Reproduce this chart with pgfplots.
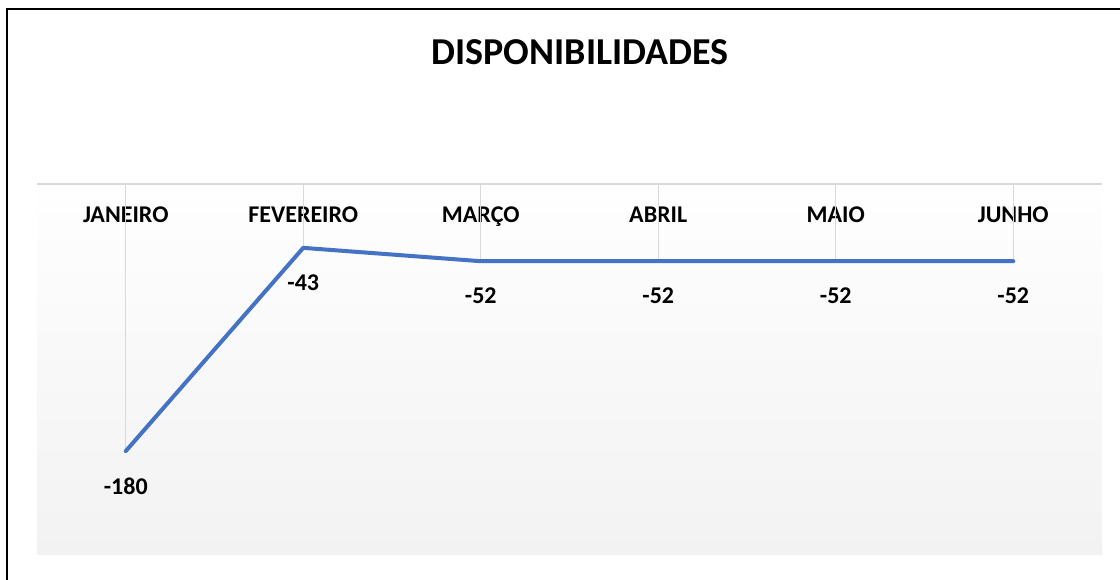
\documentclass[border=0pt]{standalone}
\usepackage{pgfplots}
\pgfplotsset{compat=1.18}
\usepackage{fontspec}
\setmainfont{Carlito}
\definecolor{linecol}{RGB}{68,114,196}
\definecolor{gridcol}{RGB}{217,217,217}
\definecolor{bgbot}{RGB}{242,242,242}
\begin{document}
\begin{tikzpicture}
\useasboundingbox (0,0) rectangle (840pt,435pt);
\begin{axis}[
  at={(27.75pt,18.75pt)}, anchor=south west,
  scale only axis, width=798.75pt, height=291pt,
  xmin=-0.5, xmax=5.5, ymin=-250, ymax=11.5,
  axis x line=middle, axis y line=none,
  axis line style={-, draw=gridcol, line width=1.2pt},
  axis background/.style={top color=white, bottom color=bgbot, draw=none},
  xtick={0,1,2,3,4,5},
  xticklabels={JANEIRO,FEVEREIRO,MARÇO,ABRIL,MAIO,JUNHO},
  major tick length=0pt,
  xticklabel style={anchor=base, yshift=-29pt, font=\fontsize{18}{20}\selectfont\bfseries},
  ytick=\empty,
  clip=false,
]
\addplot[ycomb, draw=gridcol, line width=1pt, no marks] coordinates {
  (0,-180) (1,-43) (2,-52) (3,-52) (4,-52) (5,-52)
};
\addplot[draw=linecol, line width=3pt, line cap=round, line join=round, no marks,
  point meta=explicit symbolic,
  nodes near coords,
  every node near coord/.append style={anchor=center, yshift=-26.25pt, font=\fontsize{18}{20}\selectfont\bfseries, text=black},
] coordinates {
  (0,-180) [-180]
  (1,-43) [-43]
  (2,-52) [-52]
  (3,-52) [-52]
  (4,-52) [-52]
  (5,-52) [-52]
};
\end{axis}
\draw[black, line width=1.5pt] (5.6pt,0) -- (5.6pt,428.25pt) -- (840pt,428.25pt);
\node[font=\fontsize{28.5}{34}\selectfont\bfseries] at (435pt,396pt) {DISPONIBILIDADES};
\end{tikzpicture}
\end{document}
